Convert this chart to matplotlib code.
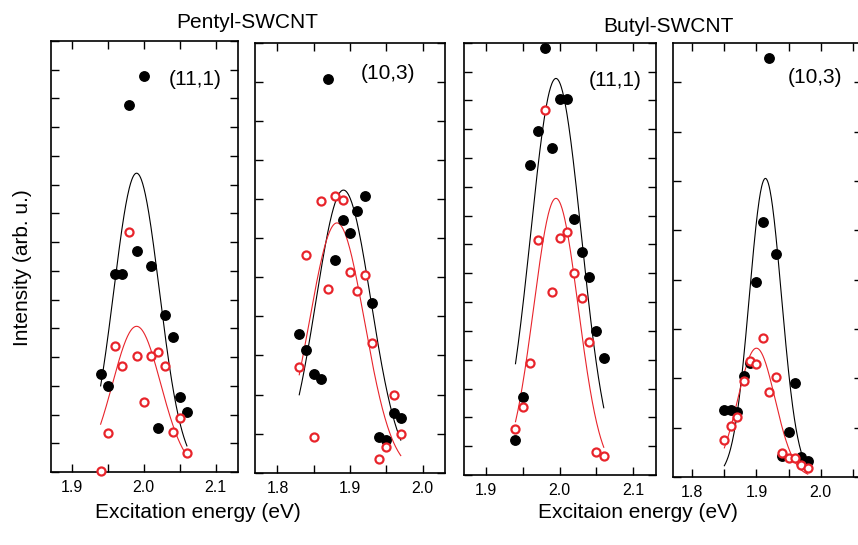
import matplotlib
matplotlib.use("Agg")
import matplotlib.pyplot as plt
import numpy as np
from matplotlib.ticker import MultipleLocator, FuncFormatter

plt.rcParams["font.family"] = ["Liberation Sans", "DejaVu Sans"]

RED = "#e8242b"

# ---- dane ----
# Pentyl-SWCNT (11,1)
p111_x = [1.94, 1.95, 1.96, 1.97, 1.98, 1.99, 2.00, 2.01, 2.02, 2.03, 2.04, 2.05, 2.06]
p111_black = [3.42, 2.98, 6.90, 6.90, 12.76, 7.70, 13.79, 7.18, 1.53, 5.48, 4.70, 2.60, 2.08]
p111_red = [0.05, 1.35, 4.40, 3.68, 8.36, 4.05, 2.42, 4.05, 4.16, 3.68, 1.40, 1.88, 0.66]

# Pentyl-SWCNT (10,3)
p103_x = [1.83, 1.84, 1.85, 1.86, 1.87, 1.88, 1.89, 1.90, 1.91, 1.92, 1.93, 1.94, 1.95, 1.96, 1.97]
p103_black = [3.56, 3.15, 2.53, 2.40, 10.06, 5.44, 6.47, 6.12, 6.69, 7.08, 4.35, 0.92, 0.84, 1.53, 1.41]
p103_red = [2.70, 5.58, 0.91, 6.94, 4.70, 7.07, 6.97, 5.14, 4.65, 5.05, 3.31, 0.36, 0.66, 1.98, 0.99]

# Butyl-SWCNT (11,1)
b111_x = [1.94, 1.95, 1.96, 1.97, 1.98, 1.99, 2.00, 2.01, 2.02, 2.03, 2.04, 2.05, 2.06]
b111_black = [1.21, 2.72, 10.74, 11.94, 14.80, 11.33, 13.03, 13.06, 8.87, 7.75, 6.88, 4.99, 4.05]
b111_red = [1.61, 2.37, 3.87, 8.15, 12.68, 6.36, 8.24, 8.42, 7.02, 6.13, 4.60, 0.81, 0.67]

# Butyl-SWCNT (10,3)
b103_x = [1.85, 1.86, 1.87, 1.88, 1.89, 1.90, 1.91, 1.92, 1.93, 1.94, 1.95, 1.96, 1.97, 1.98]
b103_black = [1.35, 1.35, 1.32, 2.04, 2.31, 3.95, 5.17, 8.49, 4.52, 0.43, 0.91, 1.91, 0.41, 0.32]
b103_red = [0.74, 1.03, 1.22, 1.95, 2.36, 2.28, 2.82, 1.72, 2.02, 0.49, 0.39, 0.39, 0.24, 0.18]

# parametry dopasowania Gaussa: (środek, amplituda, sigma), zakres
fit_p111 = [(1.990, 10.4, 0.0317), (1.990, 5.07, 0.0335)]
fit_p103 = [(1.891, 7.23, 0.038), (1.882, 6.39, 0.038)]
fit_b111 = [(1.995, 13.76, 0.0345), (1.995, 9.6, 0.0303)]
fit_b103 = [(1.914, 6.05, 0.025), (1.900, 2.61, 0.029)]
fit_range = [(1.94, 2.06), (1.83, 1.97), (1.94, 2.06), (1.85, 1.98)]

labels = ["(11,1)", "(10,3)", "(11,1)", "(10,3)"]
label_pos = [(2.071, 13.65), (1.952, 10.2), (2.075, 13.7), (1.992, 8.09)]
ylims = [15, 11, 15, 8.8]
xlims = [(1.871, 2.131), (1.769, 2.031), (1.870, 2.131), (1.770, 2.0645)]
xticks = [[1.9, 2.0, 2.1], [1.8, 1.9, 2.0], [1.9, 2.0, 2.1], [1.8, 1.9, 2.0]]

# położenie osi w pikselach: lewo, prawo, góra, dół
boxes = [(51, 238, 41, 472), (255, 445, 42.7, 472.7), (464, 656, 42.7, 475), (673, 862, 42.7, 477)]

W, H = 858, 545
fig = plt.figure(figsize=(W / 100, H / 100), dpi=100)

panels = [
    (p111_x, p111_black, p111_red, fit_p111),
    (p103_x, p103_black, p103_red, fit_p103),
    (b111_x, b111_black, b111_red, fit_b111),
    (b103_x, b103_black, b103_red, fit_b103),
]


def gauss(x, c, a, s):
    return a * np.exp(-(x - c) ** 2 / (2 * s ** 2))


for i, (x, yb, yr, fits) in enumerate(panels):
    l, r, t, b = boxes[i]
    ax = fig.add_axes([l / W, 1 - b / H, (r - l) / W, (b - t) / H])
    xs = np.linspace(fit_range[i][0], fit_range[i][1], 200)
    ax.plot(xs, gauss(xs, *fits[0]), color="black", lw=0.8)
    ax.plot(xs, gauss(xs, *fits[1]), color=RED, lw=0.8)
    ax.plot(x, yb, "o", color="black", ms=6.8, clip_on=False, zorder=3)
    ax.plot(x, yr, "o", mfc="white", mec=RED, mew=1.6, ms=5.8, clip_on=False, zorder=4)
    ax.text(*label_pos[i], labels[i], fontsize=15, ha="center", va="center")

    ax.set_xlim(*xlims[i])
    ax.set_ylim(0, ylims[i])
    ax.set_xticks(xticks[i])
    ax.xaxis.set_minor_locator(MultipleLocator(0.05))
    ax.yaxis.set_major_locator(MultipleLocator(1))
    ax.xaxis.set_major_formatter(FuncFormatter(lambda v, p: f"{v:.1f}"))
    ax.set_yticklabels([])
    ax.tick_params(which="both", direction="in", top=True, right=True,
                   length=6, width=1.0, labelsize=11.5, pad=6)
    for sp in ax.spines.values():
        sp.set_linewidth(1.2)

fig.text(247 / W, 1 - 22 / H, "Pentyl-SWCNT", fontsize=15, ha="center", va="center")
fig.text(668 / W, 1 - 27 / H, "Butyl-SWCNT", fontsize=15, ha="center", va="center")
fig.text(198 / W, 1 - 512 / H, "Excitation energy (eV)", fontsize=15, ha="center", va="center")
fig.text(638 / W, 1 - 512 / H, "Excitaion energy (eV)", fontsize=15, ha="center", va="center")
fig.text(23 / W, 1 - 268 / H, "Intensity (arb. u.)", fontsize=15, ha="center", va="center",
         rotation=90)

fig.savefig("out.png", dpi=100)
